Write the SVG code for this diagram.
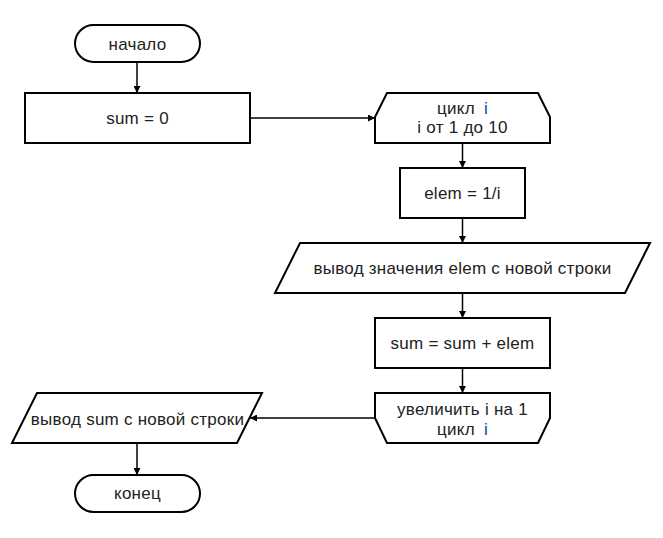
<svg xmlns="http://www.w3.org/2000/svg" width="663" height="538" viewBox="0 0 663 538">
<style>
.shape{fill:#fff;stroke:#000;stroke-width:2}
.conn{fill:none;stroke:#000;stroke-width:1.5}
text{font-family:"Liberation Sans",Arial,sans-serif;font-size:17px;letter-spacing:0.25px;fill:#222;text-anchor:middle}
.v{fill:#0a3fa8}
</style>
<defs>
<marker id="arr" viewBox="0 0 10 10" refX="10" refY="5" markerWidth="7" markerHeight="7" markerUnits="userSpaceOnUse" orient="auto">
<path d="M0,0 L10,5 L0,10 z" fill="#000"/>
</marker>
</defs>
<rect width="663" height="538" fill="#fff"/>
<g id="connectors">
<line class="conn" x1="137" y1="63" x2="137" y2="93" marker-end="url(#arr)"/>
<line class="conn" x1="250" y1="118" x2="375" y2="118" marker-end="url(#arr)"/>
<line class="conn" x1="462.5" y1="143" x2="462.5" y2="168" marker-end="url(#arr)"/>
<line class="conn" x1="462.5" y1="218" x2="462.5" y2="243" marker-end="url(#arr)"/>
<line class="conn" x1="462.5" y1="293" x2="462.5" y2="318" marker-end="url(#arr)"/>
<line class="conn" x1="462.5" y1="368" x2="462.5" y2="393" marker-end="url(#arr)"/>
<line class="conn" x1="375" y1="418" x2="250" y2="418" marker-end="url(#arr)"/>
<line class="conn" x1="137" y1="443" x2="137" y2="475" marker-end="url(#arr)"/>
</g>
<g id="start">
<rect class="shape" x="75" y="25" width="125" height="37" rx="18.5"/>
<text x="137.5" y="50">начало</text>
</g>
<g id="init">
<rect class="shape" x="25" y="93" width="225" height="50"/>
<text x="137.5" y="124">sum = 0</text>
</g>
<g id="loopStart">
<path class="shape" d="M387,93 L538,93 L550,117 L550,143 L375,143 L375,117 Z"/>
<text x="462.5" y="114">цикл<tspan class="v" dx="9">i</tspan></text>
<text x="462.5" y="133">i от 1 до 10</text>
</g>
<g id="elem">
<rect class="shape" x="400" y="168" width="125" height="50"/>
<text x="462.5" y="199">elem = 1/i</text>
</g>
<g id="outElem">
<path class="shape" d="M300,243 L650,243 L625,293 L275,293 Z"/>
<text x="462.5" y="274">вывод значения elem с новой строки</text>
</g>
<g id="sumAdd">
<rect class="shape" x="375" y="318" width="175" height="50"/>
<text x="462.5" y="349">sum = sum + elem</text>
</g>
<g id="loopEnd">
<path class="shape" d="M375,393 L550,393 L550,418 L538,443 L387,443 L375,418 Z"/>
<text x="462.5" y="415">увеличить i на 1</text>
<text x="462.5" y="435">цикл<tspan class="v" dx="9">i</tspan></text>
</g>
<g id="outSum">
<path class="shape" d="M37,393 L262,393 L237,443 L12,443 Z"/>
<text x="137.5" y="425">вывод sum с новой строки</text>
</g>
<g id="end">
<rect class="shape" x="75" y="475" width="125" height="37" rx="18.5"/>
<text x="137.5" y="499">конец</text>
</g>
</svg>
